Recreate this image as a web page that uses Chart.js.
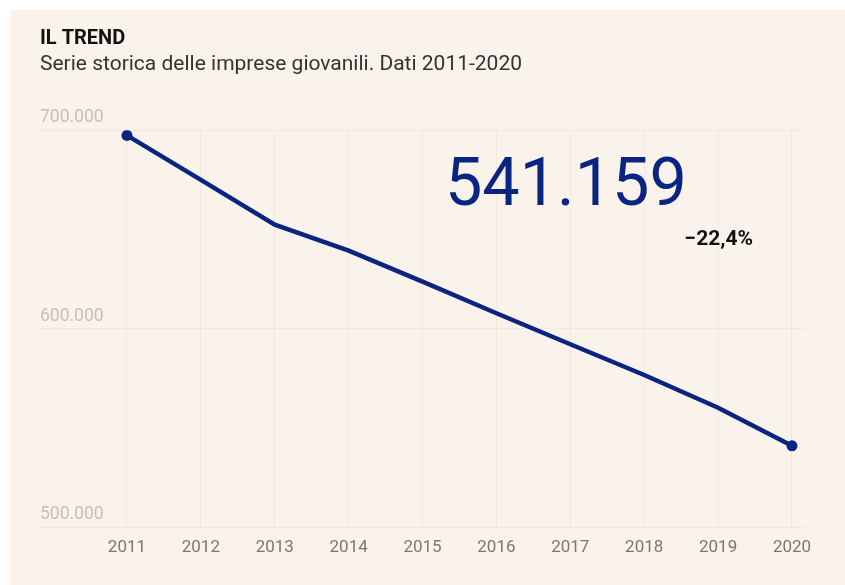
<!DOCTYPE html>
<html lang="it">
<head>
<meta charset="utf-8">
<title>Il trend delle imprese giovanili</title>
<script src="https://cdn.jsdelivr.net/npm/chart.js@4/dist/chart.umd.min.js"></script>
<style>
  html, body { margin: 0; padding: 0; background: #ffffff; }
  #wrap { width: 845px; height: 585px; }
</style>
</head>
<body>
<div id="wrap"><canvas id="chart" width="845" height="585"></canvas></div>
<script>
// Imprese giovanili, serie storica 2011-2020
const years = [2011, 2012, 2013, 2014, 2015, 2016, 2017, 2018, 2019, 2020];
const imprese = [697370, 675000, 652500, 639400, 623800, 607900, 592300, 576800, 560300, 541159];
const yTicks = [500000, 600000, 700000];

const NAVY = '#0a2581';
const PANEL = '#f9f3ec';

function formatIt(n) {
  return String(Math.round(n)).replace(/\B(?=(\d{3})+(?!\d))/g, '.');
}

// Sfondo: cornice bianca e pannello beige
const panelPlugin = {
  id: 'panel',
  beforeDraw(chart) {
    const { ctx, width, height } = chart;
    ctx.save();
    ctx.fillStyle = '#ffffff';
    ctx.fillRect(0, 0, width, height);
    ctx.fillStyle = PANEL;
    ctx.fillRect(10, 10, width - 10, height - 10);
    ctx.restore();
  }
};

// Valore finale e variazione percentuale sull'intero periodo
const summaryPlugin = {
  id: 'summary',
  afterDatasetsDraw(chart) {
    const { ctx } = chart;
    const first = imprese[0];
    const last = imprese[imprese.length - 1];
    const pct = (last / first - 1) * 100;
    const pctText = '\u2212' + Math.abs(pct).toFixed(1).replace('.', ',') + '%';
    ctx.save();
    ctx.textAlign = 'left';
    ctx.textBaseline = 'alphabetic';
    ctx.fillStyle = NAVY;
    ctx.font = '400 66.5px Roboto';
    ctx.fillText(formatIt(last), 445, 205);
    ctx.fillStyle = '#111111';
    ctx.font = '700 21px Roboto';
    ctx.textAlign = 'right';
    ctx.fillText(pctText, 753, 245);
    ctx.restore();
  }
};

new Chart(document.getElementById('chart'), {
  type: 'line',
  data: {
    datasets: [{
      data: years.map((y, i) => ({ x: y, y: imprese[i] })),
      borderColor: NAVY,
      backgroundColor: NAVY,
      borderWidth: 4.5,
      tension: 0,
      pointRadius: (c) => (c.dataIndex === 0 || c.dataIndex === years.length - 1) ? 5.5 : 0,
      pointHoverRadius: 0,
      pointBorderWidth: 0,
      fill: false
    }]
  },
  plugins: [panelPlugin, summaryPlugin],
  options: {
    responsive: false,
    animation: false,
    events: [],
    layout: { padding: { left: 40, right: 40, top: 27, bottom: 17 } },
    plugins: {
      legend: { display: false },
      tooltip: { enabled: false },
      title: {
        display: true,
        text: 'IL TREND',
        align: 'start',
        color: '#111111',
        font: { family: 'Roboto', size: 20, weight: '700', lineHeight: 1.2 },
        padding: { top: 0, bottom: 1 }
      },
      subtitle: {
        display: true,
        text: 'Serie storica delle imprese giovanili. Dati 2011-2020',
        align: 'start',
        color: '#333333',
        font: { family: 'Roboto', size: 21, weight: '400', lineHeight: 1.2 },
        padding: { top: 0, bottom: 53 }
      }
    },
    scales: {
      x: {
        type: 'linear',
        min: 2009.823,
        max: 2020.176,
        afterBuildTicks(scale) {
          scale.ticks = years.map(v => ({ value: v }));
        },
        grid: { color: 'rgba(120, 90, 50, 0.06)', lineWidth: 1, drawTicks: false },
        border: { display: false },
        ticks: {
          color: '#7b7672',
          padding: 10,
          autoSkip: false,
          maxRotation: 0,
          font: { family: 'Roboto', size: 17 },
          callback: (v) => String(v)
        }
      },
      y: {
        min: 500000,
        max: 700000,
        afterBuildTicks(scale) {
          scale.ticks = yTicks.map(v => ({ value: v }));
        },
        grid: { color: 'rgba(120, 90, 50, 0.06)', lineWidth: 1, drawTicks: false },
        border: { display: false },
        ticks: {
          mirror: true,
          padding: 0,
          labelOffset: -12.5,
          color: '#c3bfbb',
          font: { family: 'Roboto', size: 17.5 },
          callback: (v) => formatIt(v)
        }
      }
    }
  }
});
</script>
</body>
</html>
